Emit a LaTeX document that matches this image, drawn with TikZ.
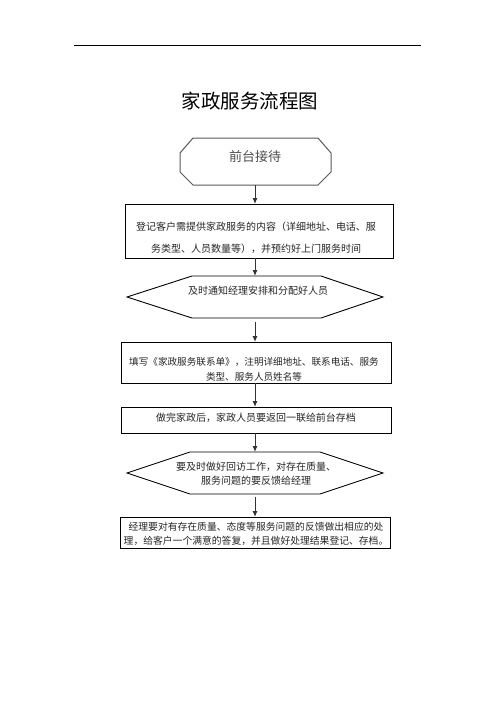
\documentclass[tikz,border=0pt]{standalone}
\usepackage{fontspec}
\setmainfont{Noto Sans CJK SC}
\usetikzlibrary{arrows.meta,calc}
\begin{document}
\begin{tikzpicture}[x=1pt,y=-1pt,
  frame/.style={draw=none,inner sep=0pt,outer sep=0pt},
  boxshape/.style={draw=black,line width=1pt,inner sep=0pt,outer sep=0pt},
  txt/.style={align=center,inner sep=0pt,font=\fontsize{10}{15}\selectfont,text=black!85},
  flow/.style={draw=black!80,line width=1pt,-{Latex[length=6pt,width=5pt]}},
  edge/.style={draw=black,line width=0.9pt,line join=miter}
]
\useasboundingbox[fill=white] (0,0) rectangle (496,702);
% header rule
\coordinate (ruleL) at (74,45);
\coordinate (ruleR) at (421,45);
\draw[line width=0.9pt] (ruleL) -- (ruleR);
% title
\node[inner sep=0pt,font=\fontsize{19.5}{24}\selectfont] (title) at (250,101) {家政服务流程图};

% start octagon
\node[frame,minimum width=151pt,minimum height=47pt] (start) at (255.5,161.5) {};
\draw[draw=black!65,line width=1pt]
  ([xshift=13pt]start.north west) -- ([xshift=-13pt]start.north east)
  -- ([yshift=-15pt]start.north east) -- ([yshift=13pt]start.south east)
  -- ([xshift=-13pt]start.south east) -- ([xshift=13pt]start.south west)
  -- ([yshift=13pt]start.south west) -- ([yshift=-15pt]start.north west) -- cycle;
\node[txt,font=\fontsize{13}{15}\selectfont,text=black!70] (starttxt) at (255,157) {前台接待};

% box 2
\node[boxshape,minimum width=268pt,minimum height=54pt] (b2) at (259,231) {};
\node[txt,font=\fontsize{10}{22}\selectfont] (b2txt) at (256,238)
  {登记客户需提供家政服务的内容（详细地址、电话、服\\务类型、人员数量等），并预约好上门服务时间};

% hexagon 1
\node[frame,minimum width=256pt,minimum height=42pt] (h1) at (255,297) {};
\draw[edge] (h1.west) -- ([xshift=65pt]h1.north west) -- ([xshift=-62pt]h1.north east)
  -- (h1.east) -- ([xshift=-62pt]h1.south east) -- ([xshift=65pt]h1.south west) -- cycle;
\node[txt] (h1txt) at (258,291) {及时通知经理安排和分配好人员};

% box 3
\node[boxshape,minimum width=270pt,minimum height=41pt] (b3) at (256,362.5) {};
\node[txt,font=\fontsize{9.6}{15}\selectfont] (b3txt) at (254,369.5)
  {填写《家政服务联系单》，注明详细地址、联系电话、服务\\类型、服务人员姓名等};

% box 4
\node[boxshape,minimum width=270pt,minimum height=26pt] (b4) at (256,420) {};
\node[txt] (b4txt) at (256,417.5) {做完家政后，家政人员要返回一联给前台存档};

% hexagon 2
\node[frame,minimum width=256pt,minimum height=42pt] (h2) at (255,473) {};
\draw[edge] (h2.west) -- ([xshift=63pt]h2.north west) -- ([xshift=-63pt]h2.north east)
  -- (h2.east) -- ([xshift=-63pt]h2.south east) -- ([xshift=63pt]h2.south west) -- cycle;
\node[txt,font=\fontsize{10}{14}\selectfont] (h2txt) at (256,474)
  {要及时做好回访工作，对存在质量、\\服务问题的要反馈给经理};

% box 5
\node[boxshape,minimum width=270pt,minimum height=31pt] (b5) at (255,532.5) {};
\node[txt,font=\fontsize{9.8}{14}\selectfont] (b5txt) at (256,534)
  {经理要对有存在质量、态度等服务问题的反馈做出相应的处\\理，给客户一个满意的答复，并且做好处理结果登记、存档。};

% connectors
\draw[flow] (start.south -| 255,0) -- (b2.north -| 255,0);
\draw[flow] (b2.south -| 255,0) -- (h1.north -| 255,0);
\draw[flow,shorten <=4pt] (h1.south -| 255,0) -- (b3.north -| 255,0);
\draw[flow] (b3.south -| 255,0) -- (b4.north -| 255,0);
\draw[flow] (b4.south -| 255,0) -- (h2.north -| 255,0);
\draw[flow,shorten <=3pt] (h2.south -| 255,0) -- (b5.north -| 255,0);
\end{tikzpicture}
\end{document}
